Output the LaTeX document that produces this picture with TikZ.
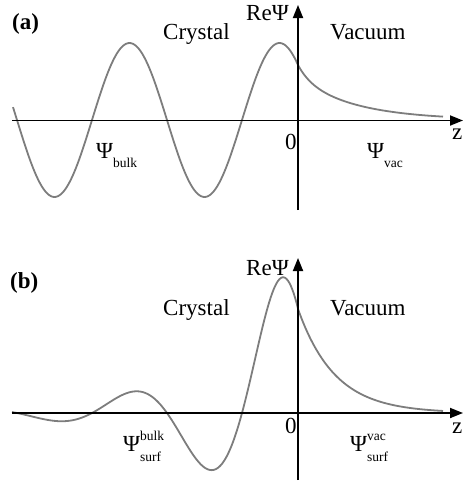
\documentclass[tikz,border=0pt]{standalone}
\usepackage{fontspec}
\setmainfont{Liberation Serif}
\usetikzlibrary{arrows.meta,positioning}
\definecolor{wavegray}{RGB}{125,125,125}
\tikzset{
  axisline/.style={line width=1.8pt, -{Triangle[length=13pt,width=10pt]}},
  wave/.style    ={line width=1.8pt, draw=wavegray, line join=round},
  lbl/.style     ={anchor=base west, inner sep=0pt,
                   font=\fontsize{23}{26}\selectfont},
  tag/.style     ={lbl, font=\fontsize{23}{26}\selectfont\bfseries},
}
\newcommand{\smallscr}{\fontsize{13.5}{14}\selectfont}
\newcommand{\psilo}[1]{Ψ\raisebox{-9pt}{\smallscr #1}}
\newcommand{\psilohi}[2]{Ψ\rlap{\raisebox{11pt}{\smallscr #1}}\raisebox{-10pt}{\smallscr #2}}

\begin{document}
\begin{tikzpicture}[x=1pt,y=-1pt]
  \useasboundingbox (0,0) rectangle (465,482);
  % (a) bulk state
  \coordinate (za0) at (12,120.5);  \coordinate (za1) at (463,120.5);
  \coordinate (ya0) at (298,210);   \coordinate (ya1) at (298,5);
  \draw[wave] plot[domain=13:298,samples=160] (\x,{120-77*sin(2.4*(\x-92))})
    -- plot[domain=298:443,samples=80]
       (\x,{120-55*(0.25*exp(-(\x-298)/12)+0.75*exp(-(\x-298)/58))});
  \draw[axisline] (za0) -- (za1);
  \draw[axisline] (ya0) -- (ya1);
  \node[tag] (taga)  at (12,29)   {(a)};
  \node[lbl] (crya)  at (163,39)  {Crystal};
  \node[lbl] (vaca)  at (330,39)  {Vacuum};
  \node[lbl] (rea)   at (246,20)  {ReΨ};
  \node[lbl] (orga)  at (285,149) {0};
  \node[lbl] (za)    at (452,139) {z};
  \node[lbl] (bulka) at (96,158)  {\psilo{bulk}};
  \node[lbl] (vacpa) at (367,158) {\psilo{vac}};
  % (b) surface state
  \coordinate (zb0) at (12,413);  \coordinate (zb1) at (463,413);
  \coordinate (yb0) at (298,480); \coordinate (yb1) at (298,258);
  \draw[wave] plot[domain=12:298,samples=200]
       (\x,{413-150*exp(0.0129*((\x-283)-ln(1+exp(0.1*(\x-283)))/0.1))*sin(2.4*(\x-242))})
    -- plot[domain=298:443,samples=80] (\x,{413-104*exp(-(\x-298)/37)});
  \draw[axisline] (zb0) -- (zb1);
  \draw[axisline] (yb0) -- (yb1);
  \node[tag] (tagb)  at (10,288)  {(b)};
  \node[lbl] (cryb)  at (163,315) {Crystal};
  \node[lbl] (vacb)  at (330,315) {Vacuum};
  \node[lbl] (reb)   at (246,275) {ReΨ};
  \node[lbl] (orgb)  at (285,433) {0};
  \node[lbl] (zb)    at (452,433) {z};
  \node[lbl] (bulkb) at (123,451) {\psilohi{bulk}{surf}};
  \node[lbl] (vacpb) at (350,451) {\psilohi{vac}{surf}};
\end{tikzpicture}
\end{document}
